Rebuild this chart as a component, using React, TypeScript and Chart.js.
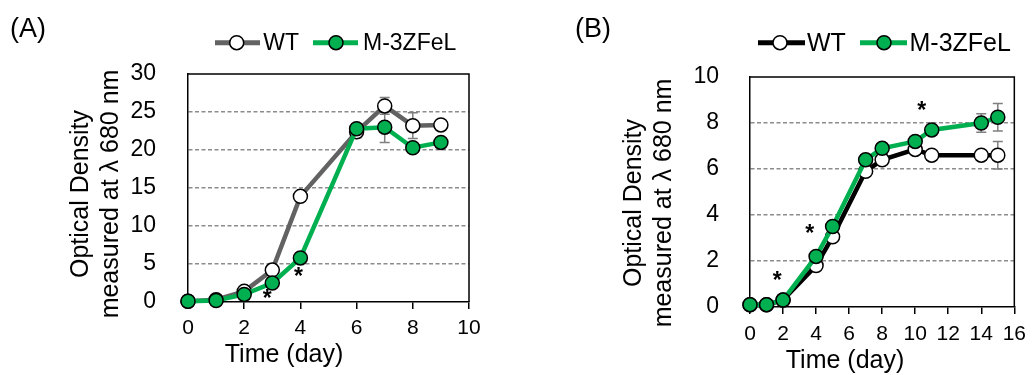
import React, { useEffect, useRef } from 'react';
import { Chart, registerables } from 'chart.js';

Chart.register(...registerables);

const FONT = '"Liberation Sans", Arial, Helvetica, sans-serif';

// ---------- Panel A data ----------
const daysA = [0, 1, 2, 3, 4, 6, 7, 8, 9];
const wtA = [0.1, 0.3, 1.4, 4.2, 13.9, 22.4, 25.8, 23.2, 23.3];
const mA = [0.1, 0.2, 1.0, 2.5, 5.8, 22.8, 23.0, 20.3, 21.0];
const wtErrA = [0, 0, 0, 0, 0, 0.8, 1.1, 1.7, 0.3];
const mErrA = [0, 0, 0, 0, 0.2, 0.3, 2.0, 0.3, 0.3];
const starXA = [2.82, 3.93];
const starYA = [1.14, 4.1];

// ---------- Panel B data ----------
const daysB = [0, 1, 2, 4, 5, 7, 8, 10, 11, 14, 15];
const wtB = [0.1, 0.1, 0.3, 1.8, 3.05, 5.9, 6.4, 6.85, 6.6, 6.6, 6.6];
const mB = [0.1, 0.1, 0.3, 2.2, 3.5, 6.4, 6.9, 7.2, 7.7, 8.0, 8.25];
const wtErrB = [0, 0, 0, 0, 0, 0, 0, 0.1, 0.1, 0.2, 0.6];
const mErrB = [0, 0, 0, 0, 0, 0, 0, 0.1, 0.1, 0.4, 0.6];
const starXB = [1.65, 3.62, 10.4];
const starYB = [1.41, 3.45, 8.77];

const seriesNames = ['WT', 'M-3ZFeL'];
const yTitleLines = ['Optical Density', 'measured at \u03BB 680 nm'];
const xTitle = 'Time (day)';

const GREEN = '#00B050';

type PanelCfg = {
  id: string;
  label: string;
  days: number[];
  wt: number[];
  m: number[];
  wtErr: number[];
  mErr: number[];
  starX: number[];
  starY: number[];
  xMax: number;
  xStep: number;
  yMax: number;
  yStep: number;
  wtColor: string;
  area: { left: number; top: number; right: number; bottom: number };
  yTickFont: number;
  xTickFont: number;
  xTickPad: number;
  yTickPad: number;
  labelPos: { x: number; y: number; size: number };
  legend: { y: number; size: number; l1: number; l2: number; mk1: number; t1: number; g1: number; g2: number; mk2: number; t2: number };
  yTitle: { x1: number; x2: number; cy: number; size: number };
  xTitlePos: { cx: number; cy: number; size: number };
};

const panelA: PanelCfg = {
  id: 'A',
  label: '(A)',
  days: daysA,
  wt: wtA,
  m: mA,
  wtErr: wtErrA,
  mErr: mErrA,
  starX: starXA,
  starY: starYA,
  xMax: 10,
  xStep: 2,
  yMax: 30,
  yStep: 5,
  wtColor: '#626262',
  area: { left: 188, top: 74, right: 469, bottom: 302 },
  yTickFont: 23,
  xTickFont: 21,
  xTickPad: 7,
  yTickPad: 32,
  labelPos: { x: 10, y: 30, size: 27 },
  legend: { y: 42.7, size: 23, l1: 215, l2: 260, mk1: 236.7, t1: 263.3, g1: 313, g2: 358, mk2: 336, t2: 363 },
  yTitle: { x1: 80, x2: 110, cy: 194, size: 25 },
  xTitlePos: { cx: 284, cy: 355, size: 25 },
};

const panelB: PanelCfg = {
  id: 'B',
  label: '(B)',
  days: daysB,
  wt: wtB,
  m: mB,
  wtErr: wtErrB,
  mErr: mErrB,
  starX: starXB,
  starY: starYB,
  xMax: 16,
  xStep: 2,
  yMax: 10,
  yStep: 2,
  wtColor: '#000000',
  area: { left: 750, top: 77, right: 1019, bottom: 307 },
  yTickFont: 23,
  xTickFont: 21,
  xTickPad: 8,
  yTickPad: 31,
  labelPos: { x: 575, y: 30, size: 27 },
  legend: { y: 42.7, size: 25, l1: 758, l2: 805, mk1: 780, t1: 807, g1: 860, g2: 907, mk2: 884, t2: 909.5 },
  yTitle: { x1: 633, x2: 663, cy: 203, size: 25 },
  xTitlePos: { cx: 845, cy: 361, size: 25 },
};

const W = 1034;
const H = 375;

function marker(ctx: CanvasRenderingContext2D, x: number, y: number, fill: string) {
  ctx.beginPath();
  ctx.arc(x, y, 7, 0, Math.PI * 2);
  ctx.fillStyle = fill;
  ctx.fill();
  ctx.lineWidth = 1.5;
  ctx.strokeStyle = '#000';
  ctx.stroke();
}

function makeOverlay(cfg: PanelCfg) {
  return {
    id: 'overlay' + cfg.id,
    beforeDatasetsDraw(chart: any) {
      const { ctx, chartArea: a, scales } = chart;
      const xs = scales.x;
      const ys = scales.y;
      ctx.save();
      // top / right frame
      ctx.strokeStyle = '#000';
      ctx.lineWidth = 1.5;
      ctx.beginPath();
      ctx.moveTo(a.left, a.top);
      ctx.lineTo(a.right, a.top);
      ctx.lineTo(a.right, a.bottom);
      ctx.stroke();
      // error bars
      ctx.strokeStyle = '#7f7f7f';
      ctx.lineWidth = 1.5;
      const sets: [number[], number[]][] = [
        [cfg.wt, cfg.wtErr],
        [cfg.m, cfg.mErr],
      ];
      sets.forEach(([vals, errs]) => {
        vals.forEach((v, i) => {
          const e = errs[i];
          if (!e) return;
          const px = xs.getPixelForValue(cfg.days[i]);
          const yTop = ys.getPixelForValue(v + e);
          const yBot = ys.getPixelForValue(v - e);
          ctx.beginPath();
          ctx.moveTo(px, yTop);
          ctx.lineTo(px, yBot);
          ctx.moveTo(px - 5, yTop);
          ctx.lineTo(px + 5, yTop);
          ctx.moveTo(px - 5, yBot);
          ctx.lineTo(px + 5, yBot);
          ctx.stroke();
        });
      });
      ctx.restore();
    },
    afterDraw(chart: any) {
      const { ctx, scales } = chart;
      const xs = scales.x;
      const ys = scales.y;
      ctx.save();
      ctx.fillStyle = '#000';
      // panel label
      ctx.font = `${cfg.labelPos.size}px ${FONT}`;
      ctx.textAlign = 'left';
      ctx.textBaseline = 'middle';
      ctx.fillText(cfg.label, cfg.labelPos.x, cfg.labelPos.y);

      // legend
      const lg = cfg.legend;
      ctx.lineCap = 'butt';
      ctx.lineWidth = 5;
      ctx.strokeStyle = cfg.wtColor;
      ctx.beginPath();
      ctx.moveTo(lg.l1, lg.y);
      ctx.lineTo(lg.l2, lg.y);
      ctx.stroke();
      marker(ctx, lg.mk1, lg.y, '#fff');
      ctx.lineWidth = 5;
      ctx.strokeStyle = GREEN;
      ctx.beginPath();
      ctx.moveTo(lg.g1, lg.y);
      ctx.lineTo(lg.g2, lg.y);
      ctx.stroke();
      marker(ctx, lg.mk2, lg.y, GREEN);
      ctx.fillStyle = '#000';
      ctx.font = `${lg.size}px ${FONT}`;
      ctx.textAlign = 'left';
      ctx.textBaseline = 'middle';
      ctx.fillText(seriesNames[0], lg.t1, lg.y + 1);
      ctx.fillText(seriesNames[1], lg.t2, lg.y + 1);

      // y title
      const yt = cfg.yTitle;
      ctx.font = `${yt.size}px ${FONT}`;
      ctx.textAlign = 'center';
      ctx.textBaseline = 'middle';
      [yt.x1, yt.x2].forEach((xx, i) => {
        ctx.save();
        ctx.translate(xx, yt.cy);
        ctx.rotate(-Math.PI / 2);
        ctx.fillText(yTitleLines[i], 0, 1);
        ctx.restore();
      });

      // x title
      const xt = cfg.xTitlePos;
      ctx.font = `${xt.size}px ${FONT}`;
      ctx.fillText(xTitle, xt.cx, xt.cy);

      // asterisks
      ctx.font = `bold 23px ${FONT}`;
      ctx.textBaseline = 'alphabetic';
      cfg.starX.forEach((sx, i) => {
        const px = xs.getPixelForValue(sx);
        const py = ys.getPixelForValue(cfg.starY[i]);
        ctx.fillText('*', px, py + 13);
      });
      ctx.restore();
    },
  };
}

function buildChart(canvas: HTMLCanvasElement, cfg: PanelCfg) {
  const yAxisW = 110;
  const xAxisH = 40;
  const wtData = cfg.days.map((d, i) => ({ x: d, y: cfg.wt[i] }));
  const mData = cfg.days.map((d, i) => ({ x: d, y: cfg.m[i] }));
  return new Chart(canvas, {
    type: 'line',
    data: {
      datasets: [
        {
          label: seriesNames[0],
          data: wtData,
          borderColor: cfg.wtColor,
          borderWidth: 4.5,
          pointRadius: 7,
          pointBorderWidth: 1.5,
          pointBorderColor: '#000',
          pointBackgroundColor: '#fff',
          tension: 0,
          order: 2,
          clip: false,
        } as any,
        {
          label: seriesNames[1],
          data: mData,
          borderColor: GREEN,
          borderWidth: 4.5,
          pointRadius: 7,
          pointBorderWidth: 1.5,
          pointBorderColor: '#000',
          pointBackgroundColor: GREEN,
          tension: 0,
          order: 1,
          clip: false,
        } as any,
      ],
    },
    options: {
      responsive: false,
      animation: false,
      devicePixelRatio: 1,
      events: [],
      layout: {
        padding: {
          left: cfg.area.left - yAxisW,
          top: cfg.area.top,
          right: W - cfg.area.right,
          bottom: H - cfg.area.bottom - xAxisH,
        },
      },
      plugins: {
        legend: { display: false },
        tooltip: { enabled: false },
        title: { display: false },
      },
      scales: {
        x: {
          type: 'linear',
          min: 0,
          max: cfg.xMax,
          afterFit: (s: any) => {
            s.height = xAxisH;
          },
          ticks: {
            stepSize: cfg.xStep,
            maxRotation: 0,
            autoSkip: false,
            padding: cfg.xTickPad,
            color: '#000',
            font: { family: FONT, size: cfg.xTickFont },
          },
          grid: {
            drawOnChartArea: false,
            drawTicks: true,
            tickLength: 7,
            color: '#000',
            lineWidth: 1.5,
          },
          border: { display: true, color: '#000', width: 1.5 },
        },
        y: {
          type: 'linear',
          min: 0,
          max: cfg.yMax,
          afterFit: (s: any) => {
            s.width = yAxisW;
          },
          ticks: {
            stepSize: cfg.yStep,
            padding: cfg.yTickPad,
            color: '#000',
            font: { family: FONT, size: cfg.yTickFont },
          },
          grid: {
            drawTicks: false,
            lineWidth: 1.5,
            color: (c: any) =>
              c.tick && (c.tick.value === 0 || c.tick.value === cfg.yMax) ? 'rgba(0,0,0,0)' : '#8c8c8c',
          },
          border: { display: true, color: '#000', width: 1.5, dash: [4, 2.5] },
        },
      },
    },
    plugins: [makeOverlay(cfg)],
  } as any);
}

function PanelCanvas({ cfg }: { cfg: PanelCfg }) {
  const ref = useRef<HTMLCanvasElement | null>(null);
  useEffect(() => {
    if (!ref.current) return;
    const chart = buildChart(ref.current, cfg);
    return () => chart.destroy();
  }, [cfg]);
  return (
    <canvas
      ref={ref}
      width={W}
      height={H}
      style={{ position: 'absolute', left: 0, top: 0, width: W, height: H }}
    />
  );
}

export default function App() {
  return (
    <div style={{ position: 'fixed', left: 0, top: 0, width: W, height: H, background: '#fff', overflow: 'hidden' }}>
      <PanelCanvas cfg={panelA} />
      <PanelCanvas cfg={panelB} />
    </div>
  );
}
